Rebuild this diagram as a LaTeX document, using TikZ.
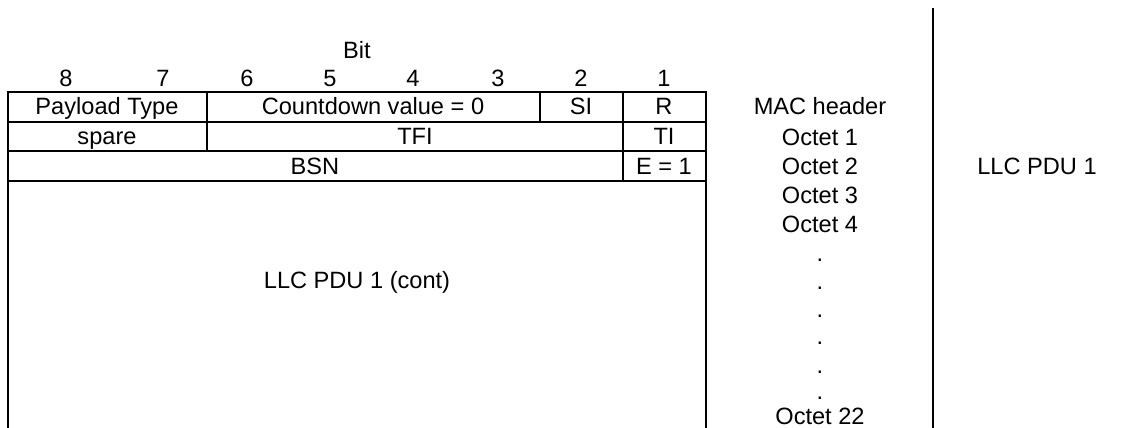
\documentclass[tikz,border=0pt]{standalone}
\usepackage{fontspec}
\setmainfont{Liberation Sans}
\usetikzlibrary{positioning}
\tikzstyle{field} = [inner sep=0pt, anchor=base,
    font=\fontsize{11.8}{14}\selectfont]
\tikzstyle{rule} = [draw, line width=1pt]

\begin{document}
\begin{tikzpicture}[x=0.5pt, y=-0.5pt]
    \useasboundingbox (0,0) rectangle (1132,428);
    % Place nodes
    \node [field] (bit) at (357,58) {Bit};
    \node [field] (b8) at (66,86) {8};
    \node [field] (b7) at (163,86) {7};
    \node [field] (b6) at (247,86) {6};
    \node [field] (b5) at (330,86) {5};
    \node [field] (b4) at (413,86) {4};
    \node [field] (b3) at (498,86) {3};
    \node [field] (b2) at (581,86) {2};
    \node [field] (b1) at (664,86) {1};

    \node [field] (ptype) at (107,114) {Payload Type};
    \node [field] (cv) at (373,114) {Countdown value = 0};
    \node [field] (si) at (581,114) {SI};
    \node [field] (r) at (664,114) {R};
    \node [field] (spare) at (107,144) {spare};
    \node [field] (tfi) at (415,144) {TFI};
    \node [field] (ti) at (664,144) {TI};
    \node [field] (bsn) at (315,174) {BSN};
    \node [field] (ext) at (664,174) {E = 1};
    \node [field] (cont) at (357,288) {LLC PDU 1 (cont)};

    \node [field] (mac) at (820,114) {MAC header};
    \node [field] (oct1) at (820,145) {Octet 1};
    \node [field] (oct2) at (820,174) {Octet 2};
    \node [field] (oct3) at (820,203) {Octet 3};
    \node [field] (oct4) at (820,232) {Octet 4};
    \node [field] (dot1) at (820,261) {.};
    \node [field] (dot2) at (820,289) {.};
    \node [field] (dot3) at (820,317) {.};
    \node [field] (dot4) at (820,344) {.};
    \node [field] (dot5) at (820,373) {.};
    \node [field] (dot6) at (820,399) {.};
    \node [field] (oct22) at (820,424) {Octet 22};

    \node [field] (pdu) at (1037,174) {LLC PDU 1};
    % Draw lines
    \path [rule] (8,428) -- (8,92) -- (706,92) -- (706,428);
    \path [rule] (8,122) -- (706,122);
    \path [rule] (8,151) -- (706,151);
    \path [rule] (8,181) -- (706,181);
    \path [rule] (207,92) -- (207,151);
    \path [rule] (540,92) -- (540,122);
    \path [rule] (623,92) -- (623,181);
    \path [rule] (933,8) -- (933,428);
\end{tikzpicture}
\end{document}
